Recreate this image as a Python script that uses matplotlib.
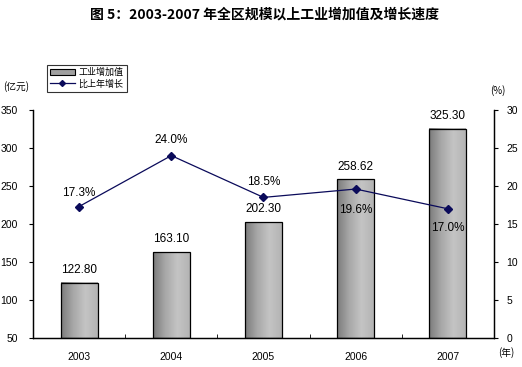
import numpy as np
import matplotlib.pyplot as plt
from matplotlib.patches import Rectangle
from matplotlib.lines import Line2D
from matplotlib.colors import LinearSegmentedColormap

plt.rcParams['font.family'] = ['Liberation Sans', 'Noto Sans CJK SC']

years = ['2003', '2004', '2005', '2006', '2007']
value_added = [122.80, 163.10, 202.30, 258.62, 325.30]
growth = [17.3, 24.0, 18.5, 19.6, 17.0]
value_labels = ['122.80', '163.10', '202.30', '258.62', '325.30']
growth_labels = ['17.3%', '24.0%', '18.5%', '19.6%', '17.0%']

fig = plt.figure(figsize=(5.22, 3.67), dpi=100)
ax = fig.add_axes([33 / 522, 1 - 338 / 367, 461 / 522, 228 / 367])
ax2 = ax.twinx()

x = np.arange(len(years))
width = 0.4

# gradient bars
grad = np.linspace(0, 1, 64).reshape(1, -1)
cmap = LinearSegmentedColormap.from_list('g', ['#7c7c7c', '#a8a8a8', '#c4c4c4', '#b4b4b4'])
for xi, v in zip(x, value_added):
    ax.imshow(grad, cmap=cmap, aspect='auto', extent=[xi - width / 2, xi + width / 2, 50, v], zorder=2)
    ax.add_patch(Rectangle((xi - width / 2, 50), width, v - 50, fill=False, edgecolor='black', lw=0.9, zorder=3))
for xi, v, lab in zip(x, value_added, value_labels):
    ax.text(xi, v + 9, lab, ha='center', va='bottom', fontsize=8.5)
ax.set_aspect('auto')
ax.set_xlim(-0.5, len(years) - 0.5)
ax.set_ylim(50, 350)

ax2.plot(x, growth, color='#0a0a5a', lw=0.9, marker='D', markersize=4, zorder=4)
ax2.set_ylim(0, 30)
offsets = [10, 11, 11, -15, -14]
for xi, g, lab, off in zip(x, growth, growth_labels, offsets):
    ax2.annotate(lab, (xi, g), xytext=(0, off), textcoords='offset points', ha='center', va='center', fontsize=8.5)

ax.set_yticks(range(50, 351, 50))
ax2.set_yticks(range(0, 31, 5))
ax.set_xticks(x)
ax.set_xticklabels(years)
ax.set_xticks(np.arange(0.5, len(years) - 0.5, 1), minor=True)
ax.tick_params(axis='x', which='major', length=0, pad=10, labelsize=7.5)
ax.tick_params(axis='x', which='minor', length=3, direction='in')
ax.tick_params(axis='y', labelsize=7.5, length=3, pad=8)
ax2.tick_params(axis='y', labelsize=7.5, length=3, pad=6)
ax.spines['top'].set_visible(False)
ax2.spines['top'].set_visible(False)
for a in (ax, ax2):
    for s in a.spines.values():
        s.set_linewidth(0.9)

fig.text(264 / 522, 1 - 15 / 367, '图 5：2003-2007 年全区规模以上工业增加值及增长速度',
         ha='center', va='center', fontsize=10, fontweight='bold', family=['Noto Sans CJK SC'])
fig.text(3 / 522, 1 - 87 / 367, '(亿元)', ha='left', va='center', fontsize=7, family=['Noto Sans CJK SC'])
fig.text(498 / 522, 1 - 91 / 367, '(%)', ha='center', va='center', fontsize=7, family=['Noto Sans CJK SC'])
fig.text(506 / 522, 1 - 353 / 367, '(年)', ha='center', va='center', fontsize=7, family=['Noto Sans CJK SC'])

handles = [Rectangle((0, 0), 1, 1, facecolor='#a0a0a0', edgecolor='black', lw=0.8),
           Line2D([], [], color='#0a0a5a', lw=0.9, marker='D', markersize=3)]
leg = fig.legend(handles, ['工业增加值', '比上年增长'], loc='upper left',
                 bbox_to_anchor=(42 / 522, 1 - 60 / 367), frameon=True, fancybox=False,
                 prop={'family': 'Noto Sans CJK SC', 'size': 6.5}, handlelength=2.8,
                 borderpad=0.35, labelspacing=0.25, handletextpad=0.4)
leg.get_frame().set_edgecolor('black')
leg.get_frame().set_linewidth(0.8)

fig.savefig('out.png', dpi=100)
